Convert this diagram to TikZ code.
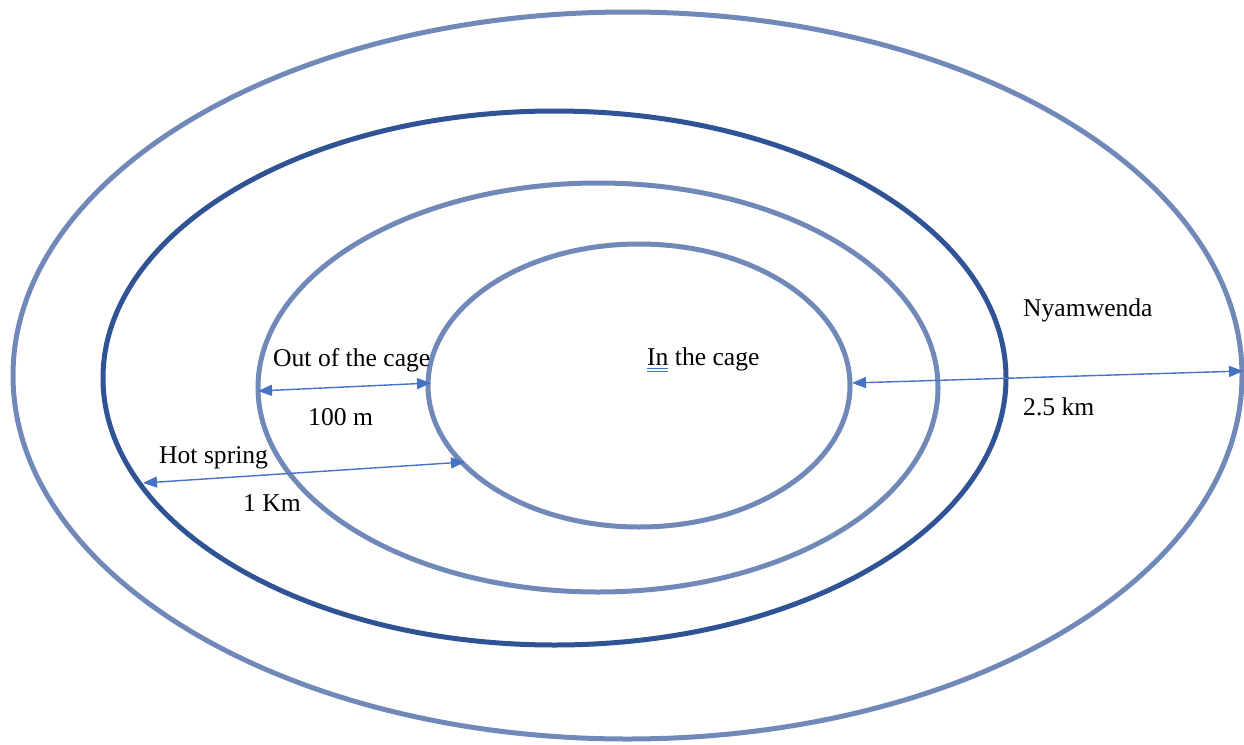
\documentclass[tikz,border=0pt]{standalone}
\usepackage{fontspec}
\setmainfont{Liberation Serif}
\usetikzlibrary{arrows.meta}
\definecolor{ringlight}{HTML}{7189B8}
\definecolor{ringdark}{HTML}{2F5395}
\definecolor{arrowblue}{HTML}{4472C4}
\tikzset{
  ring/.style={draw=ringlight, line width=5pt},
  darkring/.style={draw=ringdark, line width=5pt},
  dim/.style={draw=arrowblue, line width=1.4pt, {Triangle[length=14pt,width=11pt]}-{Triangle[length=14pt,width=11pt]}},
  lbl/.style={inner sep=0pt, anchor=base west, font=\fontsize{25.6}{30}\selectfont}
}
\begin{document}
\begin{tikzpicture}[x=1pt,y=-1pt]
\useasboundingbox (0,0) rectangle (1244,744);
% rings
\draw[ring] (627.5,375.5) ellipse [x radius=614.5, y radius=363.5];
\draw[darkring] (554.5,378) ellipse [x radius=451.5, y radius=267];
\draw[ring] (598,387.5) ellipse [x radius=340, y radius=204.5];
\draw[ring] (639,385.5) ellipse [x radius=211, y radius=141.5];
% arrow ends
\coordinate (a1) at (258,391);
\coordinate (b1) at (431,383);
\coordinate (a2) at (143,483);
\coordinate (b2) at (465,462);
\coordinate (a3) at (852,383);
\coordinate (b3) at (1243,371);
\draw[dim] (a1) -- (b1);
\draw[dim] (a2) -- (b2);
\draw[dim] (a3) -- (b3);
% labels
\node[lbl] (out) at (273,366) {Out of the cage};
\node[lbl] (m100) at (308,425) {100 m};
\node[lbl] (hot) at (159,463) {Hot spring};
\node[lbl] (km1) at (243,511) {1 Km};
\node[lbl] (incage) at (647,365) {In the cage};
\node[lbl] (nyam) at (1023,316) {Nyamwenda};
\node[lbl] (km25) at (1023,415) {2.5 km};
% spell-check double underline under "In"
\coordinate (u1) at (647,368);
\coordinate (u2) at (668,368);
\coordinate (u3) at (647,371.5);
\coordinate (u4) at (668,371.5);
\draw[arrowblue, line width=1pt] (u1) -- (u2);
\draw[arrowblue, line width=1pt] (u3) -- (u4);
\end{tikzpicture}
\end{document}
